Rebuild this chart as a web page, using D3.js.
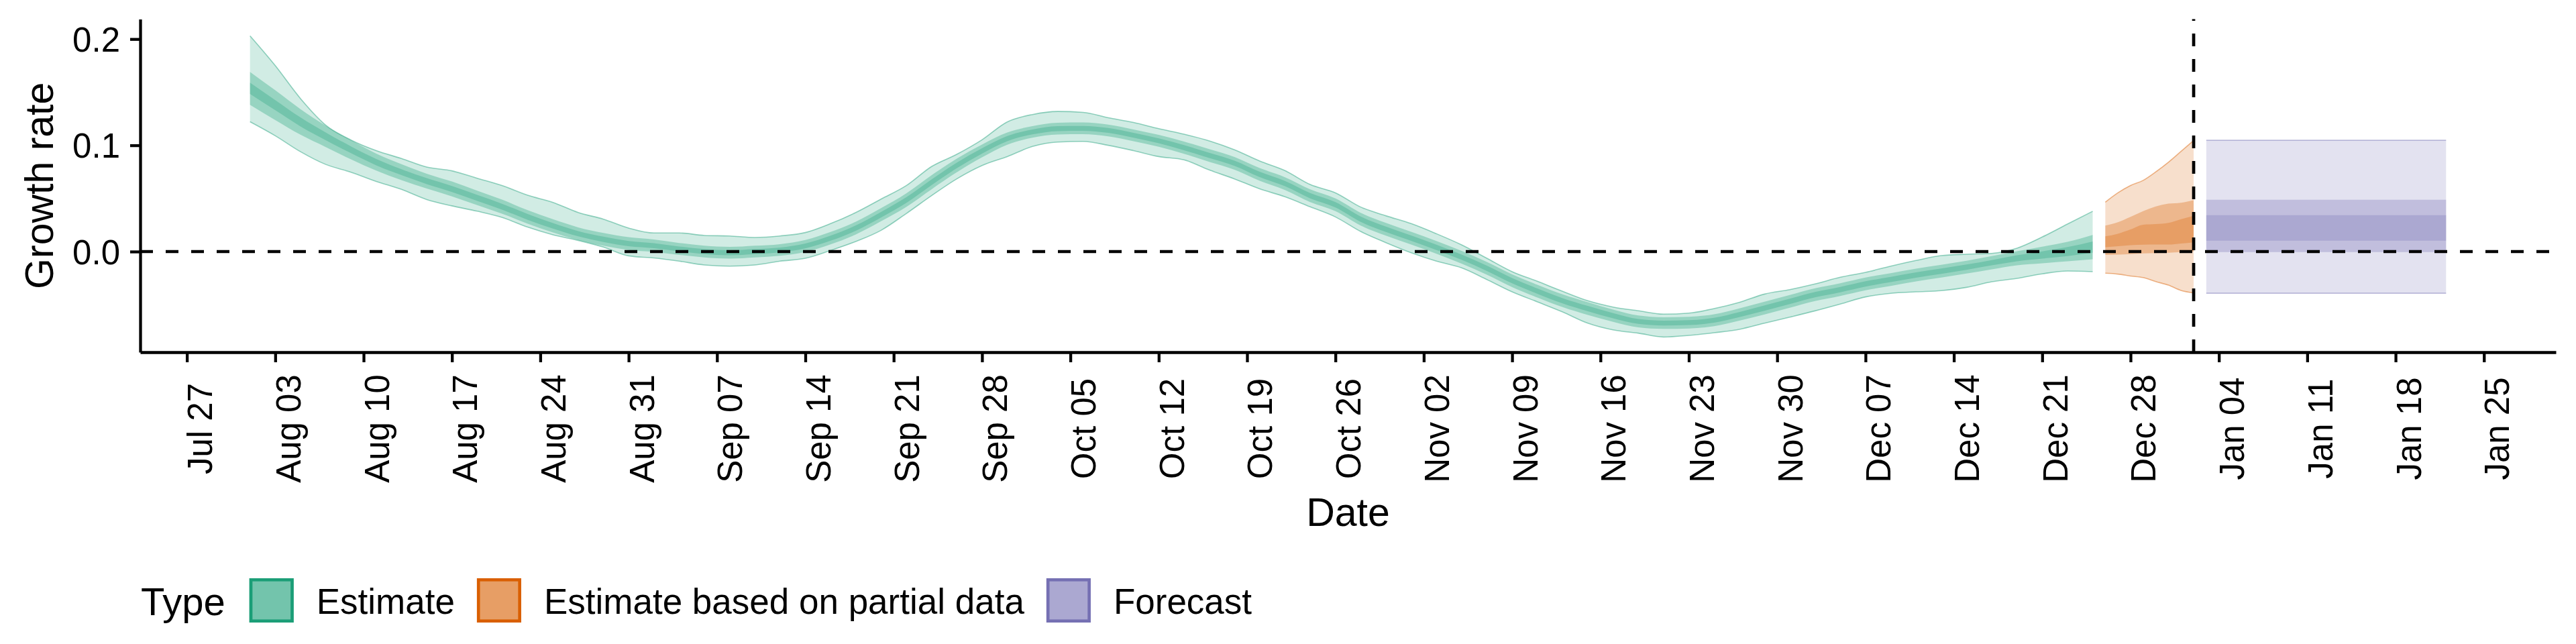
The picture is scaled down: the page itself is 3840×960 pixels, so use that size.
<!DOCTYPE html>
<html>
<head>
<meta charset="utf-8">
<script src="https://cdn.jsdelivr.net/npm/d3@7"></script>
<style>
  body { margin: 0; background: #fff; }
  svg text { font-family: "Liberation Sans", Arial, Helvetica, sans-serif; fill: #000; }
</style>
</head>
<body>
<svg id="chart"></svg>
<script>
// growth rate estimate + partial data + forecast, ribbons at 90/50/20%
var width = 3840;
var height = 960;

// estimate: every 2 days from Aug 01 to Dec 25 2020
var estStart = "2020-08-01";
var estEnd = "2020-12-25";

var estMid = [
  0.1536, 0.1378, 0.122, 0.1084, 0.0958, 0.0842, 0.0747, 0.0663, 0.0589, 0.0505,
  0.0421, 0.0326, 0.0242, 0.0168, 0.0115, 0.0075, 0.0055, 0.0025, 0.0, -0.0011,
  0.0, 0.0015, 0.0053, 0.0126, 0.0221, 0.0347, 0.0484, 0.0652, 0.081, 0.0947,
  0.1063, 0.1126, 0.1157, 0.116, 0.114, 0.1094, 0.1042, 0.0978, 0.0905, 0.0831,
  0.0726, 0.064, 0.0526, 0.044, 0.0305, 0.021, 0.0126, 0.004, -0.0053, -0.0158,
  -0.0274, -0.0372, -0.0463, -0.0537, -0.0604, -0.0658, -0.0673, -0.0669, -0.0646, -0.0593,
  -0.0532, -0.0469, -0.0406, -0.0358, -0.0305, -0.0263, -0.0221, -0.0185, -0.0147, -0.0105,
  -0.0063, -0.0032, 0.0, 0.0042
];
var estHi90 = [
  0.203, 0.175, 0.144, 0.119, 0.105, 0.095, 0.0876, 0.0795, 0.076, 0.069,
  0.062, 0.053, 0.0463, 0.0368, 0.0305, 0.0221, 0.0175, 0.0175, 0.0152, 0.0147,
  0.0133, 0.0147, 0.0179, 0.0263, 0.0368, 0.0494, 0.0621, 0.080, 0.0915, 0.1052,
  0.122, 0.129, 0.1319, 0.131, 0.126, 0.1215, 0.1157, 0.1105, 0.1042, 0.0958,
  0.0852, 0.0762, 0.0631, 0.0553, 0.0419, 0.0337, 0.0263, 0.0168, 0.0063, -0.0063,
  -0.0189, -0.028, -0.0374, -0.0463, -0.0522, -0.0557, -0.0589, -0.0579, -0.0537, -0.0478,
  -0.040, -0.0358, -0.0305, -0.0242, -0.0196, -0.0137, -0.0084, -0.0038, -0.0025, -0.0017,
  0.0032, 0.0137, 0.0259, 0.0379
];
var estLo90 = [
  0.1222, 0.109, 0.094, 0.082, 0.0747, 0.066, 0.0585, 0.049, 0.043, 0.038,
  0.032, 0.023, 0.0158, 0.0105, 0.0042, -0.004, -0.006, -0.009, -0.0126, -0.0137,
  -0.0126, -0.009, -0.0063, 0.0011, 0.0095, 0.020, 0.0358, 0.0526, 0.0684, 0.081,
  0.0894, 0.0989, 0.1031, 0.1037, 0.100, 0.095, 0.0894, 0.0863, 0.0768, 0.0684,
  0.059, 0.0516, 0.0421, 0.0326, 0.0189, 0.0084, -0.0011, -0.009, -0.0153, -0.0263,
  -0.0379, -0.0473, -0.0568, -0.0674, -0.0737, -0.0768, -0.0804, -0.0789, -0.0764, -0.0732,
  -0.0674, -0.0617, -0.0558, -0.0494, -0.0427, -0.0393, -0.0379, -0.0368, -0.0337, -0.0284,
  -0.0253, -0.021, -0.0183, -0.0189
];
// half widths of the 50% and 20% bands
var estW50 = [
  0.0155, 0.014, 0.012, 0.010, 0.009, 0.008, 0.0075, 0.007, 0.007, 0.0068,
  0.0066, 0.0064, 0.0062, 0.006, 0.006, 0.006, 0.0058, 0.0056, 0.0055, 0.0055,
  0.0055, 0.0055, 0.0056, 0.0058, 0.006, 0.0062, 0.0064, 0.0066, 0.0064, 0.006,
  0.0057, 0.0055, 0.0055, 0.0055, 0.0055, 0.0055, 0.0056, 0.0058, 0.006, 0.006,
  0.006, 0.006, 0.006, 0.006, 0.006, 0.006, 0.006, 0.006, 0.006, 0.006,
  0.006, 0.006, 0.006, 0.006, 0.0058, 0.0056, 0.0055, 0.0055, 0.0056, 0.0058,
  0.006, 0.006, 0.006, 0.006, 0.006, 0.006, 0.006, 0.006, 0.006, 0.0062,
  0.0066, 0.0078, 0.0092, 0.0115
];
var estW20 = [
  0.0053, 0.0048, 0.0042, 0.0036, 0.0032, 0.003, 0.0028, 0.0028, 0.0028, 0.0028,
  0.0028, 0.0027, 0.0026, 0.0025, 0.0025, 0.0025, 0.0024, 0.0023, 0.0023, 0.0023,
  0.0023, 0.0023, 0.0023, 0.0024, 0.0025, 0.0026, 0.0027, 0.0027, 0.0026, 0.0025,
  0.0024, 0.0023, 0.0023, 0.0023, 0.0023, 0.0023, 0.0023, 0.0024, 0.0025, 0.0025,
  0.0025, 0.0025, 0.0025, 0.0025, 0.0025, 0.0025, 0.0025, 0.0025, 0.0025, 0.0025,
  0.0025, 0.0025, 0.0025, 0.0025, 0.0024, 0.0023, 0.0023, 0.0023, 0.0023, 0.0024,
  0.0025, 0.0025, 0.0025, 0.0025, 0.0025, 0.0025, 0.0025, 0.0025, 0.0025, 0.0025,
  0.0028, 0.0034, 0.0042, 0.0053
];

// estimate based on partial data
var parDates = ["2020-12-26", "2020-12-27", "2020-12-28", "2020-12-29", "2020-12-30", "2020-12-31", "2021-01-01", "2021-01-02"];
var parHi90 = [0.0465, 0.0553, 0.0622, 0.067, 0.075, 0.0841, 0.0943, 0.1045];
var parHi50 = [0.0245, 0.0277, 0.0327, 0.0381, 0.0424, 0.0451, 0.046, 0.0485];
var parHi20 = [0.0143, 0.0168, 0.0208, 0.0253, 0.0259, 0.027, 0.0305, 0.0337];
var parLo20 = [0.0041, 0.005, 0.006, 0.0065, 0.0066, 0.0066, 0.0076, 0.0087];
var parLo50 = [-0.0032, -0.0029, -0.0024, -0.0018, -0.0014, -0.0011, -0.0005, 0.0];
var parLo90 = [-0.0204, -0.0212, -0.023, -0.0245, -0.0283, -0.0316, -0.0366, -0.0389];

// forecast (flat)
var fcDates = ["2021-01-03", "2021-01-22"];
var fcHi90 = [0.1047, 0.1047];
var fcHi50 = [0.0488, 0.0488];
var fcHi20 = [0.0343, 0.0343];
var fcLo20 = [0.0102, 0.0102];
var fcLo50 = [-0.0004, -0.0004];
var fcLo90 = [-0.0392, -0.0392];

var forecastDate = "2021-01-02";
var yTicks = [0.0, 0.1, 0.2];

var types = ["Estimate", "Estimate based on partial data", "Forecast"];
var colours = ["#1b9e77", "#d95f02", "#7570b3"];
var bandAlpha = [0.2, 0.3125, 0.29]; // 90%, 50%, 20%

var parse = d3.utcParse("%Y-%m-%d");

var estDates = d3.utcDay.range(parse(estStart), d3.utcDay.offset(parse(estEnd), 1), 2);
var estimate = estDates.map(function(d, i) {
  return {
    date: d,
    lo90: estLo90[i], hi90: estHi90[i],
    lo50: estMid[i] - estW50[i], hi50: estMid[i] + estW50[i],
    lo20: estMid[i] - estW20[i], hi20: estMid[i] + estW20[i]
  };
});
var partial = parDates.map(function(d, i) {
  return { date: parse(d), lo90: parLo90[i], hi90: parHi90[i], lo50: parLo50[i], hi50: parHi50[i], lo20: parLo20[i], hi20: parHi20[i] };
});
var forecast = fcDates.map(function(d, i) {
  return { date: parse(d), lo90: fcLo90[i], hi90: fcHi90[i], lo50: fcLo50[i], hi50: fcHi50[i], lo20: fcLo20[i], hi20: fcHi20[i] };
});
var series = [estimate, partial, forecast];

var plotLeft = 209, plotRight = 3810, plotTop = 28.6, plotBottom = 525;

// ggplot style 5% expansion on dates
var dMin = parse(estStart), dMax = parse(fcDates[1]);
var pad = (dMax - dMin) * 0.05;
var x = d3.scaleUtc()
  .domain([new Date(+dMin - pad), new Date(+dMax + pad)])
  .range([plotLeft, plotRight]);

var y = d3.scaleLinear()
  .domain([-0.0947, 0.2187])
  .range([plotBottom, plotTop]);

var svg = d3.select("svg#chart")
  .attr("width", width)
  .attr("height", height)
  .style("background", "#fff");

var ribbons = svg.append("g");
var bands = [["lo90", "hi90"], ["lo50", "hi50"], ["lo20", "hi20"]];

series.forEach(function(data, s) {
  bands.forEach(function(b, k) {
    var area = d3.area()
      .x(function(d) { return x(d.date); })
      .y0(function(d) { return y(d[b[0]]); })
      .y1(function(d) { return y(d[b[1]]); })
      .curve(d3.curveMonotoneX);
    ribbons.append("path")
      .datum(data)
      .attr("d", area)
      .attr("fill", colours[s])
      .attr("fill-opacity", bandAlpha[k]);
  });
  // outline on the outer band, upper and lower only
  ["lo90", "hi90"].forEach(function(key) {
    var line = d3.line()
      .x(function(d) { return x(d.date); })
      .y(function(d) { return y(d[key]); })
      .curve(d3.curveMonotoneX);
    ribbons.append("path")
      .datum(data)
      .attr("d", line)
      .attr("fill", "none")
      .attr("stroke", colours[s])
      .attr("stroke-opacity", 0.45)
      .attr("stroke-width", 1.6);
  });
});

// reference lines
svg.append("line")
  .attr("x1", plotLeft).attr("x2", plotRight)
  .attr("y1", y(0)).attr("y2", y(0))
  .attr("stroke", "#000").attr("stroke-width", 4.7)
  .attr("stroke-dasharray", "19,19");

svg.append("line")
  .attr("x1", x(parse(forecastDate))).attr("x2", x(parse(forecastDate)))
  .attr("y1", plotBottom).attr("y2", plotTop)
  .attr("stroke", "#000").attr("stroke-width", 4.7)
  .attr("stroke-dasharray", "19,19");

// axes
var xAxis = svg.append("g")
  .attr("transform", "translate(0," + plotBottom + ")")
  .call(d3.axisBottom(x)
    .ticks(d3.utcMonday.every(1))
    .tickFormat(d3.utcFormat("%b %d"))
    .tickSize(15)
    .tickSizeOuter(0));

xAxis.selectAll("text")
  .attr("y", null)
  .attr("dy", null)
  .attr("text-anchor", "middle")
  .attr("transform", "translate(37,114) rotate(-90)")
  .style("font-size", "51px");

var yAxis = svg.append("g")
  .attr("transform", "translate(" + plotLeft + ",0)")
  .call(d3.axisLeft(y)
    .tickValues(yTicks)
    .tickFormat(d3.format(".1f"))
    .tickSize(15)
    .tickPadding(15)
    .tickSizeOuter(0));

yAxis.selectAll("text")
  .attr("dy", "0.36em")
  .style("font-size", "51px");

svg.selectAll(".domain, .tick line")
  .attr("stroke", "#000")
  .attr("stroke-width", 4.3);
svg.selectAll(".tick line").attr("stroke-linecap", "butt");

// axis titles
svg.append("text")
  .attr("x", (plotLeft + plotRight) / 2)
  .attr("y", 784)
  .attr("text-anchor", "middle")
  .style("font-size", "59px")
  .text("Date");

svg.append("text")
  .attr("transform", "translate(79," + ((plotTop + plotBottom) / 2) + ") rotate(-90)")
  .attr("text-anchor", "middle")
  .style("font-size", "59px")
  .text("Growth rate");

// legend
var legend = svg.append("g");
var legendBase = 915;
var keySize = 66;
var keyTop = 862;

var title = legend.append("text")
  .attr("x", 210)
  .attr("y", legendBase + 2)
  .style("font-size", "58px")
  .text("Type");

var cursor = 210 + title.node().getComputedTextLength() + 36;
types.forEach(function(t, s) {
  bandAlpha.forEach(function(a) {
    legend.append("rect")
      .attr("x", cursor).attr("y", keyTop)
      .attr("width", keySize).attr("height", keySize)
      .attr("fill", colours[s]).attr("fill-opacity", a);
  });
  legend.append("rect")
    .attr("x", cursor + 2.3).attr("y", keyTop + 2.3)
    .attr("width", keySize - 4.6).attr("height", keySize - 4.6)
    .attr("fill", "none")
    .attr("stroke", colours[s])
    .attr("stroke-width", 4.6);
  var label = legend.append("text")
    .attr("x", cursor + keySize + 34)
    .attr("y", legendBase)
    .style("font-size", "53px")
    .text(t);
  cursor = cursor + keySize + 34 + label.node().getComputedTextLength() + 33;
});
</script>
</body>
</html>
